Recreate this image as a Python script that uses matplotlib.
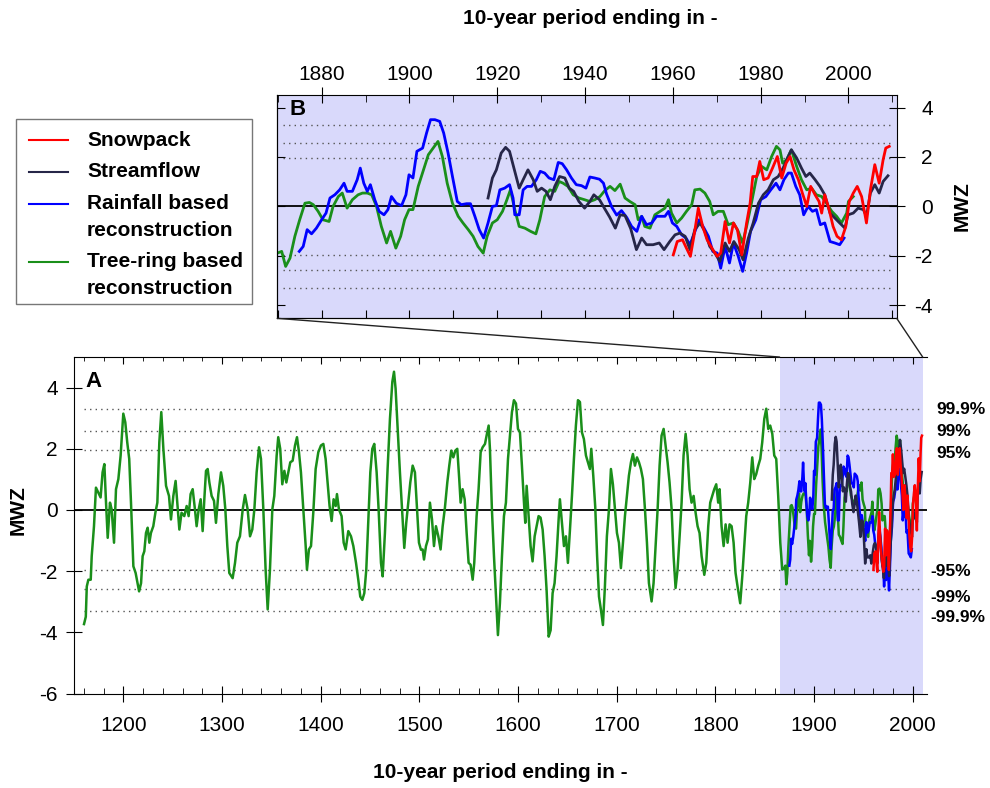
import matplotlib.pyplot as plt
import matplotlib.transforms as mtransforms
from matplotlib.ticker import MultipleLocator
from matplotlib.patches import ConnectionPatch, Rectangle
from matplotlib.lines import Line2D

plt.rcParams['font.family'] = ['Liberation Sans', 'DejaVu Sans']
plt.rcParams['axes.unicode_minus'] = False

# --- data (10-year running mean, MWZ units) ---
tree_years = [
    1160.2, 1162.0, 1163.0, 1164.6, 1167.0, 1168.0, 1170.3, 1172.3, 1174.7, 1177.0,
    1179.0, 1180.8, 1182.5, 1184.2, 1186.5, 1188.2, 1190.6, 1192.6, 1195.0, 1197.3,
    1200.0, 1202.0, 1204.0, 1206.0, 1207.8, 1210.2, 1212.5, 1216.0, 1218.0, 1219.6,
    1221.3, 1223.0, 1224.7, 1226.4, 1228.0, 1230.4, 1232.5, 1234.5, 1236.5, 1238.5,
    1240.6, 1243.3, 1246.3, 1248.3, 1250.7, 1253.0, 1254.7, 1256.8, 1259.0, 1261.8,
    1264.2, 1266.2, 1268.2, 1270.3, 1272.6, 1274.3, 1276.4, 1278.4, 1280.4, 1282.1,
    1283.8, 1285.5, 1287.2, 1289.5, 1291.9, 1293.9, 1296.3, 1299.0, 1301.3, 1303.4,
    1305.4, 1307.4, 1310.8, 1313.2, 1315.5, 1318.2, 1321.0, 1323.3, 1326.0, 1328.4,
    1330.7, 1332.8, 1335.1, 1337.5, 1339.5, 1341.9, 1344.2, 1346.3, 1348.6, 1351.0,
    1353.0, 1355.4, 1357.0, 1359.0, 1361.1, 1363.2, 1365.2, 1367.2, 1369.2, 1371.6,
    1374.0, 1376.0, 1378.0, 1380.0, 1382.4, 1384.8, 1386.1, 1388.1, 1390.2, 1392.5,
    1394.9, 1397.6, 1400.3, 1402.7, 1405.0, 1407.0, 1409.0, 1411.1, 1413.1, 1415.2,
    1416.5, 1418.5, 1421.2, 1423.3, 1425.3, 1428.0, 1430.7, 1433.1, 1435.8, 1438.1,
    1440.1, 1442.2, 1444.2, 1446.2, 1448.3, 1450.3, 1452.3, 1454.3, 1456.7, 1458.7,
    1461.1, 1462.8, 1465.1, 1467.8, 1470.2, 1472.6, 1474.3, 1475.9, 1478.0, 1480.3,
    1482.7, 1484.7, 1486.7, 1488.8, 1490.8, 1493.2, 1495.5, 1497.6, 1499.6, 1501.6,
    1503.3, 1504.7, 1506.7, 1508.7, 1510.7, 1512.8, 1514.8, 1516.8, 1519.2, 1521.5,
    1523.6, 1525.9, 1528.3, 1530.3, 1532.3, 1534.4, 1536.4, 1538.4, 1540.4, 1541.8,
    1543.8, 1545.9, 1547.9, 1549.9, 1551.9, 1554.0, 1555.6, 1558.0, 1560.0, 1562.1,
    1564.1, 1566.5, 1568.1, 1570.2, 1571.5, 1573.5, 1575.6, 1577.6, 1579.6, 1581.6,
    1583.7, 1585.7, 1587.7, 1589.8, 1591.8, 1593.8, 1595.8, 1597.9, 1599.9, 1601.9,
    1603.9, 1606.0, 1607.3, 1608.7, 1610.7, 1612.7, 1614.7, 1616.8, 1618.8, 1620.8,
    1622.8, 1624.9, 1626.9, 1628.9, 1631.0, 1633.0, 1635.0, 1637.0, 1639.0, 1641.1,
    1642.4, 1644.5, 1646.5, 1648.5, 1650.5, 1652.6, 1654.6, 1656.6, 1658.6, 1660.7,
    1662.7, 1664.7, 1666.7, 1668.8, 1670.8, 1672.8, 1674.2, 1676.2, 1678.2, 1680.1,
    1682.0, 1684.0, 1686.0, 1688.0, 1690.0, 1692.1, 1694.1, 1696.1, 1698.2, 1700.2,
    1702.2, 1704.2, 1706.3, 1708.3, 1710.3, 1712.3, 1714.4, 1716.4, 1718.4, 1720.5,
    1722.5, 1724.5, 1726.5, 1728.6, 1730.6, 1732.6, 1735.3, 1737.3, 1739.4, 1741.4,
    1743.4, 1745.4, 1747.5, 1749.5, 1751.5, 1753.5, 1755.6, 1757.6, 1759.6, 1761.6,
    1763.7, 1765.7, 1767.7, 1769.8, 1771.8, 1773.8, 1775.8, 1777.9, 1779.9, 1781.9,
    1783.9, 1786.0, 1788.7, 1790.7, 1792.7, 1794.7, 1796.8, 1798.8, 1800.8, 1802.8,
    1804.2, 1806.2, 1808.3, 1810.3, 1812.3, 1814.3, 1816.4, 1818.4, 1820.4, 1822.4,
    1825.1, 1827.2, 1829.2, 1831.2, 1833.2, 1835.3, 1837.3, 1839.3, 1841.3, 1843.4,
    1845.4, 1847.4, 1849.5, 1851.5, 1853.5, 1855.5, 1857.6, 1859.6, 1861.6, 1863.6,
    1865.7, 1867.7, 1869.9, 1870.9, 1871.8, 1872.8, 1873.9, 1875.0, 1876.2, 1877.2,
    1878.1, 1879.2, 1880.3, 1881.7, 1882.6, 1883.8, 1884.7, 1885.8, 1887.0, 1888.3,
    1889.3, 1890.4, 1891.4, 1892.5, 1893.6, 1894.8, 1895.7, 1896.9, 1898.0, 1898.9,
    1899.9, 1900.8, 1902.0, 1903.1, 1904.3, 1905.4, 1906.5, 1907.5, 1908.6, 1909.8,
    1911.1, 1912.2, 1913.4, 1914.5, 1915.6, 1916.8, 1917.7, 1918.9, 1920.0, 1921.2,
    1922.2, 1923.0, 1924.0, 1925.0, 1926.3, 1927.6, 1928.8, 1929.7, 1930.8, 1932.0,
    1933.1, 1934.1, 1935.0, 1936.1, 1937.3, 1938.6, 1939.9, 1941.1, 1942.2, 1943.4,
    1944.5, 1945.7, 1946.8, 1948.0, 1949.1, 1950.2, 1951.4, 1952.1, 1952.9, 1953.6,
    1954.8, 1955.9, 1957.1, 1958.2, 1959.0, 1959.7, 1960.9, 1962.0, 1963.1, 1964.3,
    1965.0, 1966.2, 1967.3, 1968.4, 1969.2, 1970.3, 1971.5, 1972.6, 1973.8, 1974.9,
    1975.9, 1976.8, 1977.9, 1979.1, 1980.2, 1981.4, 1982.5, 1983.6, 1984.4, 1985.0,
    1985.9, 1987.0, 1988.2, 1989.3, 1990.5, 1991.6, 1992.7, 1993.9, 1995.0, 1996.2,
    1997.3, 1998.4, 1999.6, 2000.0, 2001.1]
tree_vals = [
    -3.73, -3.49, -2.50, -2.28, -2.28, -1.51, -0.53, 0.73, 0.57, 0.41,
    1.23, 1.50, 0.24, -0.91, 0.24, 0.02, -1.07, 0.68, 1.01, 1.78,
    3.15, 2.87, 2.21, 1.67, 0.24, -1.84, -2.06, -2.66, -2.39, -1.51,
    -1.35, -0.75, -0.58, -1.07, -0.75, -0.53, -0.09, 0.24, 2.21, 3.20,
    2.00, 0.79, 0.46, -0.31, 0.46, 0.95, 0.24, -0.64, -0.09, -0.20,
    0.13, -0.20, 0.52, 0.68, 0.02, -0.53, 0.02, 0.35, -0.69, 0.35,
    1.28, 1.34, 0.90, 0.46, 0.30, -0.42, 0.52, 1.23, 0.79, 0.02,
    -1.18, -2.06, -2.23, -1.73, -1.07, -0.86, 0.02, 0.49, 0.02, -0.86,
    -0.64, 0.02, 1.23, 2.05, 1.67, 0.02, -1.95, -3.25, -1.95, 0.02,
    0.46, 1.78, 2.38, 2.00, 0.84, 1.28, 0.90, 1.23, 1.56, 1.61,
    2.11, 2.38, 1.89, 1.23, 0.02, -1.18, -1.95, -1.29, -1.18, -0.09,
    1.34, 1.89, 2.11, 2.16, 1.67, 0.90, 0.13, -0.36, 0.35, 0.13,
    0.52, 0.02, -0.20, -1.07, -1.29, -0.69, -0.86, -1.18, -1.73, -2.28,
    -2.83, -2.94, -2.72, -1.95, -0.31, 1.23, 2.00, 2.16, 1.23, 0.02,
    -1.73, -2.17, -0.75, 1.34, 2.98, 4.19, 4.52, 3.97, 2.65, 1.23,
    -0.09, -1.24, -0.42, 0.24, 0.90, 1.45, 1.23, 0.02, -1.07, -1.30,
    -1.29, -1.62, -1.18, -0.96, 0.24, -0.31, -1.18, -0.53, -0.86, -1.29,
    -0.53, 0.08, 0.90, 1.45, 1.94, 1.72, 1.94, 2.00, 1.01, 0.24,
    0.68, 0.35, -0.75, -1.73, -1.79, -2.28, -1.73, -0.20, 0.68, 1.89,
    2.05, 2.16, 2.43, 2.76, 2.00, 0.02, -1.51, -2.83, -4.09, -3.05,
    -1.51, -0.20, 0.24, 1.67, 2.43, 3.20, 3.59, 3.48, 2.65, 2.54,
    1.45, 0.24, -0.42, 0.79, -0.20, -1.18, -1.68, -0.86, -0.53, -0.20,
    -0.25, -0.64, -1.51, -2.61, -4.14, -3.93, -2.72, -2.39, -1.51, -0.31,
    0.35, -0.42, -1.18, -0.86, -1.73, -0.64, 0.46, 1.67, 2.76, 3.59,
    3.53, 2.54, 2.32, 1.78, 1.56, 1.34, 2.00, 1.12, 0.10, -1.51,
    -2.83, -3.27, -3.76, -2.50, -0.86, 0.02, 1.34, 0.84, 0.02, -0.75,
    -1.07, -1.90, -1.07, -0.20, 0.46, 1.12, 1.56, 1.83, 1.45, 1.72,
    1.56, 1.34, 1.01, 0.02, -1.07, -2.39, -2.99, -2.39, -1.18, 0.02,
    1.45, 2.43, 2.65, 2.11, 1.56, 0.90, 0.02, -1.51, -2.55, -1.95,
    -0.86, 0.24, 1.78, 2.49, 1.78, 0.68, 0.24, 0.46, -0.09, -0.53,
    -0.75, -1.51, -2.12, -1.73, -0.53, 0.24, 0.46, 0.68, 0.84, 0.24,
    0.68, -0.53, -1.18, -0.47, -1.07, -0.47, -0.53, -1.07, -2.06, -2.50,
    -3.05, -2.17, -1.18, -0.20, 0.24, 0.90, 1.72, 1.01, 1.17, 1.45,
    1.67, 2.21, 2.98, 3.31, 2.65, 2.76, 2.49, 1.78, 1.67, 0.46,
    -1.07, -1.95, -1.89, -1.82, -2.43, -2.09, -1.21, -0.54, 0.13, 0.16,
    0.07, -0.20, -0.54, -0.61, 0.00, 0.40, 0.54, -0.07, 0.27, 0.47,
    0.54, 0.54, 0.47, 0.00, -0.81, -1.48, -1.01, -1.69, -1.21, -0.54,
    -0.13, -0.13, 0.81, 1.42, 2.09, 2.36, 2.63, 2.02, 0.94, 0.13,
    -0.40, -0.67, -0.94, -1.21, -1.62, -1.89, -1.21, -0.67, -0.54, -0.20,
    0.27, 0.67, -0.13, -0.81, -0.88, -1.01, -1.11, -0.54, 0.40, 0.67,
    0.61, 1.01, 0.94, 0.81, 0.47, 0.34, 0.27, 0.20, 0.27, 0.40,
    0.64, 0.81, 0.64, 0.90, 0.34, 0.20, 0.07, -0.54, -0.40, -0.81,
    -0.88, -0.34, -0.20, -0.07, 0.27, -0.27, -0.67, -0.47, -0.20, 0.07,
    0.67, 0.70, 0.54, 0.20, -0.34, -0.20, -0.20, -0.74, -0.67, -1.01,
    -1.48, -0.81, 0.13, 1.21, 1.62, 1.48, 2.02, 2.43, 2.29, 1.75,
    1.89, 2.29, 1.62, 1.08, 0.67, 0.74, 0.47, 0.40, 0.13, -0.20,
    -0.40, -0.67, -0.27, 0.20, 0.40]

rain_years = [
    1874.9, 1875.8, 1876.7, 1877.7, 1878.8, 1880.0, 1881.0, 1881.9, 1883.0, 1884.1,
    1885.1, 1885.8, 1887.0, 1888.1, 1888.8, 1889.6, 1890.4, 1891.1, 1892.1, 1893.1,
    1894.2, 1895.1, 1895.9, 1897.0, 1898.2, 1899.2, 1899.9, 1900.8, 1901.7, 1903.0,
    1903.9, 1904.8, 1905.8, 1906.9, 1907.8, 1908.8, 1909.8, 1910.9, 1911.8, 1913.0,
    1913.9, 1914.9, 1915.9, 1916.9, 1917.9, 1918.9, 1919.8, 1920.6, 1921.7, 1922.8,
    1923.6, 1924.0, 1925.0, 1925.9, 1926.8, 1927.8, 1928.9, 1929.8, 1930.8, 1931.8,
    1932.9, 1933.9, 1934.8, 1935.8, 1936.9, 1938.0, 1939.2, 1940.2, 1941.1, 1942.2,
    1943.3, 1944.2, 1944.9, 1946.1, 1947.2, 1948.3, 1949.5, 1950.6, 1951.8, 1952.9,
    1954.0, 1955.2, 1956.3, 1957.4, 1958.2, 1959.0, 1959.9, 1960.9, 1962.0, 1963.0,
    1963.9, 1964.9, 1966.0, 1967.1, 1968.1, 1969.1, 1970.1, 1970.9, 1971.9, 1972.9,
    1973.8, 1974.9, 1975.9, 1976.8, 1977.7, 1978.9, 1980.0, 1981.2, 1982.3, 1983.5,
    1984.4, 1985.3, 1986.3, 1987.0, 1988.0, 1988.9, 1989.8, 1990.8, 1991.8, 1992.7,
    1993.6, 1994.6, 1995.8, 1996.9, 1998.0, 1999.0]
rain_vals = [
    -1.82, -1.62, -0.94, -1.11, -0.88, -0.54, -0.27, 0.34, 0.47, 0.67,
    0.94, 0.61, 0.61, 1.08, 1.55, 0.94, 0.61, 0.88, 0.27, -0.20,
    -0.34, -0.13, 0.40, 0.13, 0.03, 0.47, 1.28, 1.15, 2.23, 2.36,
    2.97, 3.51, 3.51, 3.44, 2.97, 2.16, 1.21, 0.20, 0.07, 0.11,
    0.11, -0.40, -0.94, -1.28, -0.67, 0.00, 0.03, 0.67, 0.74, 0.88,
    0.34, -0.34, -0.34, 0.67, 0.81, 0.81, 1.08, 1.42, 1.35, 1.15,
    1.08, 1.78, 1.73, 1.48, 1.15, 0.88, 0.84, 0.74, 1.19, 1.15,
    1.10, 0.94, 0.50, -0.03, -0.35, -0.17, -0.45, -0.81, -1.01, -0.40,
    -0.74, -0.67, -0.40, -0.40, -0.40, -0.20, -0.67, -0.81, -1.15, -1.28,
    -1.55, -1.08, -0.54, -0.88, -1.21, -1.82, -1.89, -2.50, -1.62, -2.29,
    -1.48, -2.02, -2.63, -1.89, -1.01, -0.54, 0.27, 0.40, 0.67, 0.94,
    0.67, 1.08, 1.35, 1.35, 0.81, 0.47, -0.34, 0.00, -0.20, -0.13,
    -0.74, -0.67, -1.42, -1.48, -1.55, -1.28]

flow_years = [
    1917.9, 1918.9, 1919.8, 1920.9, 1921.9, 1922.8, 1923.8, 1925.0, 1925.9, 1927.0,
    1928.2, 1929.1, 1930.1, 1931.1, 1932.1, 1933.1, 1934.2, 1935.4, 1936.4, 1937.4,
    1938.6, 1939.9, 1941.1, 1942.0, 1943.3, 1944.4, 1945.6, 1946.9, 1948.0, 1949.1,
    1950.4, 1951.7, 1952.9, 1954.0, 1955.5, 1956.9, 1958.0, 1959.3, 1960.5, 1961.6,
    1962.8, 1963.9, 1965.0, 1966.2, 1967.3, 1968.4, 1969.6, 1970.7, 1971.9, 1972.9,
    1973.9, 1975.1, 1976.0, 1977.2, 1978.3, 1979.5, 1980.6, 1981.7, 1982.9, 1984.0,
    1985.1, 1986.3, 1987.0, 1988.2, 1989.3, 1990.3, 1991.2, 1992.4, 1993.5, 1994.6,
    1995.8, 1996.9, 1998.0, 1999.2, 1999.9, 2001.1, 2002.2, 2003.4, 2004.1, 2005.0,
    2006.0, 2007.0, 2007.9, 2009.0]
flow_vals = [
    0.34, 1.15, 1.48, 2.16, 2.39, 2.23, 1.55, 0.74, 1.08, 1.48,
    1.08, 0.61, 0.74, 0.61, 0.27, 0.81, 1.21, 1.15, 0.74, 0.61,
    0.20, -0.07, 0.20, 0.47, 0.27, -0.07, -0.43, -0.88, -0.34, -0.37,
    -0.90, -1.75, -1.28, -1.55, -1.55, -1.48, -1.75, -1.42, -1.15, -1.08,
    -1.21, -1.75, -0.94, -0.67, -1.01, -1.62, -1.89, -2.23, -1.48, -1.82,
    -1.42, -1.75, -2.16, -1.28, -0.67, 0.13, 0.47, 0.67, 1.08, 1.21,
    1.55, 2.02, 2.29, 1.96, 1.55, 1.21, 1.35, 1.08, 0.81, 0.47,
    -0.27, -0.47, -0.67, -0.88, -0.34, -0.27, -0.07, -0.13, -0.40, 0.54,
    0.88, 0.54, 1.01, 1.24]

snow_years = [
    1960.1, 1961.0, 1962.2, 1963.1, 1964.0, 1964.8, 1965.8, 1966.8, 1967.8, 1969.1,
    1970.1, 1970.9, 1971.9, 1972.9, 1973.8, 1974.7, 1975.7, 1976.8, 1977.6, 1978.2,
    1979.1, 1979.8, 1980.7, 1981.7, 1982.7, 1983.8, 1984.8, 1985.8, 1986.7, 1987.6,
    1988.6, 1989.5, 1990.5, 1991.4, 1992.4, 1993.3, 1993.9, 1994.6, 1995.6, 1996.5,
    1997.4, 1998.4, 1999.4, 2000.2, 2001.1, 2002.0, 2003.0, 2003.7, 2004.1, 2005.0,
    2006.0, 2007.0, 2007.9, 2008.5, 2009.3]
snow_vals = [
    -1.96, -1.42, -1.35, -1.69, -2.02, -1.21, -0.07, -0.81, -1.35, -1.75,
    -2.02, -1.89, -0.61, -1.48, -0.67, -0.94, -1.96, -0.67, 0.13, 1.21,
    1.21, 1.82, 1.08, 1.15, 1.55, 2.02, 1.15, 1.75, 2.02, 1.48,
    1.08, 0.54, 0.00, 0.81, 0.47, 0.20, -0.27, 0.47, -0.13, -0.81,
    -1.21, -1.35, -0.81, 0.20, 0.54, 0.81, 0.40, -0.27, -0.67, 0.67,
    1.69, 0.94, 1.89, 2.36, 2.43]

signif_levels = [1.96, 2.58, 3.29]            # 95%, 99%, 99.9%
signif_labels = ['95%', '99%', '99.9%']
zoom_period = (1865, 2010)

series = [
    ('Tree-ring based\nreconstruction', tree_years, tree_vals, '#1a8f1a'),
    ('Rainfall based\nreconstruction', rain_years, rain_vals, '#0000ff'),
    ('Streamflow', flow_years, flow_vals, '#262648'),
    ('Snowpack', snow_years, snow_vals, '#ff0000'),
]
shade = '#d9d9fb'
dots = (0, (1, 3))

fig = plt.figure(figsize=(9.9, 7.88), dpi=100)
axA = fig.add_axes([0.0747, 0.1199, 0.8613, 0.4270])
axB = fig.add_axes([0.2801, 0.5960, 0.6257, 0.2838])

# ---------- panel A: full record ----------
axA.axvspan(*zoom_period, color=shade, lw=0, zorder=0)
for lv in signif_levels:
    axA.hlines([lv, -lv], tree_years[0], zoom_period[1] - 2, colors='#555555',
               linestyles=dots, lw=1, zorder=1)
axA.axhline(0, color='black', lw=1.3, zorder=2)
for nome, xs, ys, cor in series:
    axA.plot(xs, ys, color=cor, lw=1.8, zorder=3)

axA.set_xlim(1150, 2014)
axA.set_ylim(-6, 5)
axA.spines['right'].set_visible(False)
axA.spines['top'].set_visible(False)
axA.set_xticks(range(1200, 2001, 100))
axA.xaxis.set_minor_locator(MultipleLocator(20))
axA.set_yticks(range(-6, 5, 2))
axA.tick_params(axis='x', which='major', direction='inout', length=11, labelsize=15, pad=10.5)
axA.tick_params(axis='x', which='minor', direction='in', length=4)
axA.tick_params(axis='y', direction='inout', length=11, labelsize=15, pad=6)

topA = axA.secondary_xaxis('top')
topA.set_xticks(range(1200, 2001, 100))
topA.xaxis.set_minor_locator(MultipleLocator(20))
topA.tick_params(which='major', direction='in', length=5, labeltop=False)
topA.tick_params(which='minor', direction='in', length=3)

axA.text(0.014, 0.927, 'A', transform=axA.transAxes, fontsize=16,
         fontweight='bold', va='center')

trans = mtransforms.blended_transform_factory(axA.transAxes, axA.transData)
pos_y = [1.84, 2.55, 3.30]
neg_y = [-2.00, -2.86, -3.53]
for lab, yp, yn in zip(signif_labels, pos_y, neg_y):
    axA.text(1.0117, yp, lab, transform=trans, fontsize=12.5, fontweight='bold', va='center')
    axA.text(1.0047, yn, '-' + lab, transform=trans, fontsize=12.5, fontweight='bold', va='center')

# ---------- panel B: zoom on the last 140 years ----------
axB.set_facecolor(shade)
for lv in signif_levels:
    axB.axhline(lv, xmin=0.01, xmax=0.99, color='#555555', ls=dots, lw=1)
    axB.axhline(-lv, xmin=0.01, xmax=0.99, color='#555555', ls=dots, lw=1)
axB.axhline(0, color='black', lw=1.3)
for nome, xs, ys, cor in series:
    axB.plot(xs, ys, color=cor, lw=2.0)

axB.set_xlim(1869.9, 2011)
axB.set_ylim(-4.53, 4.52)
axB.xaxis.tick_top()
axB.set_xticks(range(1880, 2001, 20))
axB.xaxis.set_minor_locator(MultipleLocator(10))
axB.tick_params(axis='x', which='major', direction='inout', length=11, labelsize=15, pad=2)
axB.tick_params(axis='x', which='minor', direction='in', length=5)
axB.yaxis.tick_right()
axB.set_yticks(range(-4, 5, 2))
axB.tick_params(axis='y', direction='inout', length=11, labelsize=15, pad=20.5)
plt.setp(axB.get_yticklabels(), ha='right')

botB = axB.secondary_xaxis('bottom')
botB.set_xticks(range(1870, 2011, 10))
botB.tick_params(direction='in', length=6, labelbottom=False)
leftB = axB.secondary_yaxis('left')
leftB.set_yticks(range(-4, 5, 2))
leftB.tick_params(direction='in', length=6, labelleft=False)

axB.text(0.019, 0.936, 'B', transform=axB.transAxes, fontsize=16,
         fontweight='bold', va='center')

# lines linking panel B to the shaded part of panel A
for xb, xa in [(0, zoom_period[0]), (1, zoom_period[1])]:
    con = ConnectionPatch(xyA=(xb, 0), coordsA=axB.transAxes,
                          xyB=(xa, 5), coordsB=axA.transData,
                          color='#222222', lw=1)
    fig.add_artist(con)

# axis titles
fig.text(590 / 990, 1 - 18 / 788, '10-year period ending in -', ha='center', va='center',
         fontsize=15, fontweight='bold')
fig.text(500 / 990, 1 - 772 / 788, '10-year period ending in -', ha='center', va='center',
         fontsize=15, fontweight='bold')
fig.text(18 / 990, 1 - 510 / 788, 'MWZ', rotation=90, ha='center', va='center',
         fontsize=15, fontweight='bold')
fig.text(962 / 990, 1 - 206 / 788, 'MWZ', rotation=90, ha='center', va='center',
         fontsize=15, fontweight='bold')

# legend drawn by hand (handle sits next to the first line of each label)
fig.add_artist(Rectangle((16 / 990, 1 - 304 / 788), 236 / 990, 185 / 788,
                         transform=fig.transFigure, facecolor='white',
                         edgecolor='#777777', lw=1))
leg_rows = [('Snowpack', 140), ('Streamflow', 171.5),
            ('Rainfall based\nreconstruction', 203.5),
            ('Tree-ring based\nreconstruction', 261.5)]
cores = {nome: cor for nome, xs, ys, cor in series}
for nome, ypx in leg_rows:
    yf = 1 - ypx / 788
    fig.add_artist(Line2D([29 / 990, 68 / 990], [yf, yf], transform=fig.transFigure,
                          color=cores[nome], lw=1.5))
    for k, parte in enumerate(nome.split('\n')):
        fig.text(87 / 990, yf - k * 27 / 788, parte, ha='left', va='center',
                 fontsize=15, fontweight='bold')

fig.savefig('out.png', dpi=100)
